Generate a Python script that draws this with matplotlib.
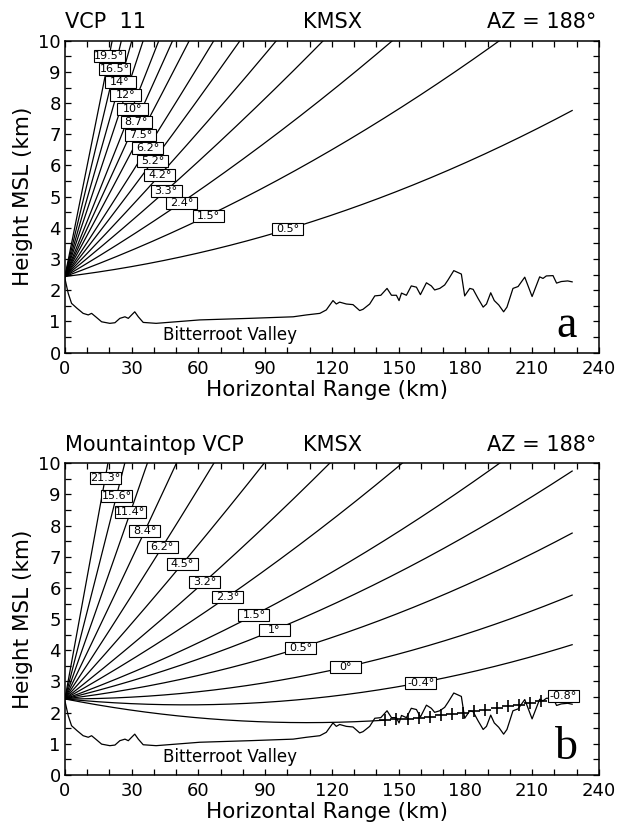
import numpy as np
import matplotlib.pyplot as plt
from matplotlib.patches import Rectangle
from matplotlib.transforms import ScaledTranslation

# radar site height (km MSL) and effective earth radius used for beam paths
radar_km = 2.44
earth_eff_km = 7800.0
range_end = 228

# terrain profile along AZ 188
terrain_range = [0, 1.5, 3, 5.5, 8.2, 10.5, 12, 14.2, 16.5, 20.2,
                 22.5, 24.7, 27, 28.5, 30, 31.4, 33, 35.2, 41, 60.6,
                 83, 102.6, 108.6, 114.6, 117.5, 120.5, 122, 123.5, 126.5, 129.5,
                 132.5, 134, 137, 139.3, 142, 144.8, 146.8, 149, 150.2, 151.3,
                 153.5, 155.7, 158, 159.8, 162.5, 164.7, 166.2, 168.5, 170.7, 172.2,
                 174.8, 178.2, 179.7, 182, 183.5, 185.7, 188, 189.5, 191.4, 193,
                 195, 197.2, 198.7, 201.4, 203.7, 206.7, 210, 213.4, 214.9, 216.4,
                 219.4, 221, 223.1, 226, 228]
terrain_height = [2.38, 1.90, 1.58, 1.42, 1.26, 1.21, 1.26, 1.13, 0.99, 0.94,
                  0.96, 1.10, 1.15, 1.10, 1.21, 1.31, 1.15, 0.97, 0.94, 1.05,
                  1.10, 1.15, 1.21, 1.26, 1.37, 1.67, 1.56, 1.62, 1.56, 1.54,
                  1.35, 1.39, 1.56, 1.82, 1.84, 2.06, 1.84, 1.84, 1.67, 1.91,
                  1.84, 2.14, 2.10, 1.86, 2.24, 2.14, 2.01, 2.06, 2.17, 2.33,
                  2.63, 2.52, 1.82, 2.06, 2.03, 1.74, 1.46, 1.56, 1.92, 1.67,
                  1.53, 1.31, 1.46, 2.06, 2.12, 2.42, 1.80, 2.43, 2.38, 2.46,
                  2.47, 2.23, 2.28, 2.30, 2.27]

# VCP 11 elevation angles, labels and the range (km) where each label sits
vcp11_angles = [0.5, 1.5, 2.4, 3.3, 4.2, 5.2, 6.2, 7.5, 8.7, 10, 12, 14, 16.5, 19.5]
vcp11_labels = ["0.5°", "1.5°", "2.4°", "3.3°", "4.2°", "5.2°", "6.2°", "7.5°",
                "8.7°", "10°", "12°", "14°", "16.5°", "19.5°"]
vcp11_label_r = [100, 64.5, 52.4, 45.5, 42.6, 39.5, 37.1, 33.9, 32.0, 30.2, 27.1, 24.8, 22.3, 19.9]

# Mountaintop VCP
mtn_angles = [-0.8, -0.4, 0, 0.5, 1, 1.5, 2.3, 3.2, 4.5, 6.2, 8.4, 11.4, 15.6, 21.3]
mtn_labels = ["-0.8°", "-0.4°", "0°", "0.5°", "1°", "1.5°", "2.3°", "3.2°",
              "4.5°", "6.2°", "8.4°", "11.4°", "15.6°", "21.3°"]
mtn_label_r = [224, 160, 126, 106, 94, 85, 73, 62.7, 52.8, 43.8, 36.0, 29.4, 23.2, 18.1]
# -0.8 beam: solid up to here, then plus marks where it runs into terrain
blocked_start = 144
blocked_r = [144, 149, 154, 159, 164, 169, 174, 179, 184, 189, 194, 199, 204, 209, 214]


def beam_height(r, elev):
    r = np.asarray(r, dtype=float)
    return radar_km + r * np.tan(np.radians(elev)) + r ** 2 / (2 * earth_eff_km)


fig = plt.figure(figsize=(6.18, 8.24), dpi=100)


def box_label(ax, x, y, txt):
    tr = fig.dpi_scale_trans + ScaledTranslation(x, y, ax.transData)
    ax.add_patch(Rectangle((-0.155, -0.06), 0.31, 0.12, transform=tr,
                           facecolor='white', edgecolor='black', lw=0.8,
                           zorder=4, clip_on=False))
    ax.text(x, y, txt, ha='center', va='center', fontsize=8, zorder=5)


def draw_panel(ax, angles, labels, label_r, left_title, letter, blocked=False):
    ax.set_xlim(0, 240)
    ax.set_ylim(0, 10)
    for ang, lab, lr in zip(angles, labels, label_r):
        if blocked and ang == -0.8:
            r = np.linspace(0, blocked_start, 200)
            ax.plot(r, beam_height(r, ang), color='black', lw=0.9)
            ax.plot(blocked_r, beam_height(blocked_r, ang), '+', color='black',
                    ms=9, mew=1.2)
        else:
            r = np.linspace(0, range_end, 400)
            ax.plot(r, beam_height(r, ang), color='black', lw=0.9)
        box_label(ax, lr, float(beam_height(lr, ang)), lab)

    ax.plot(terrain_range, terrain_height, color='black', lw=0.9)
    ax.text(74, 0.57, "Bitterroot Valley", ha='center', va='center', fontsize=12)
    ax.text(225.5, 0.5, letter, ha='center', va='baseline', fontsize=33,
            family='Liberation Serif')

    ax.set_xticks(np.arange(0, 241, 30))
    ax.set_xticks(np.arange(0, 241, 10), minor=True)
    ax.set_yticks(np.arange(0, 11, 1))
    ax.set_yticks(np.arange(0, 10.01, 0.5), minor=True)
    ax.tick_params(which='both', direction='in', top=True, right=True,
                   length=4.5, width=0.9, labelsize=13)
    ax.tick_params(axis='x', pad=5)
    ax.tick_params(axis='y', pad=3)
    for s in ax.spines.values():
        s.set_linewidth(1.1)

    ax.set_xlabel("Horizontal Range (km)", fontsize=15.5)
    ax.set_ylabel("Height MSL (km)", fontsize=15.5)
    ax.xaxis.set_label_coords(0.49, -0.087)
    ax.yaxis.set_label_coords(-0.06, 0.5)

    ax.text(0.0, 1.06, left_title, transform=ax.transAxes, ha='left', va='center', fontsize=15)
    ax.text(0.446, 1.06, "KMSX", transform=ax.transAxes, ha='left', va='center', fontsize=15)
    ax.text(0.996, 1.06, "AZ = 188°", transform=ax.transAxes, ha='right', va='center', fontsize=15)


ax1 = fig.add_axes([0.105, 0.572, 0.864, 0.3786])
ax2 = fig.add_axes([0.105, 0.0595, 0.864, 0.3782])

draw_panel(ax1, vcp11_angles, vcp11_labels, vcp11_label_r, "VCP  11", "a")
draw_panel(ax2, mtn_angles, mtn_labels, mtn_label_r, "Mountaintop VCP", "b", blocked=True)

fig.savefig("out.png", dpi=100)
